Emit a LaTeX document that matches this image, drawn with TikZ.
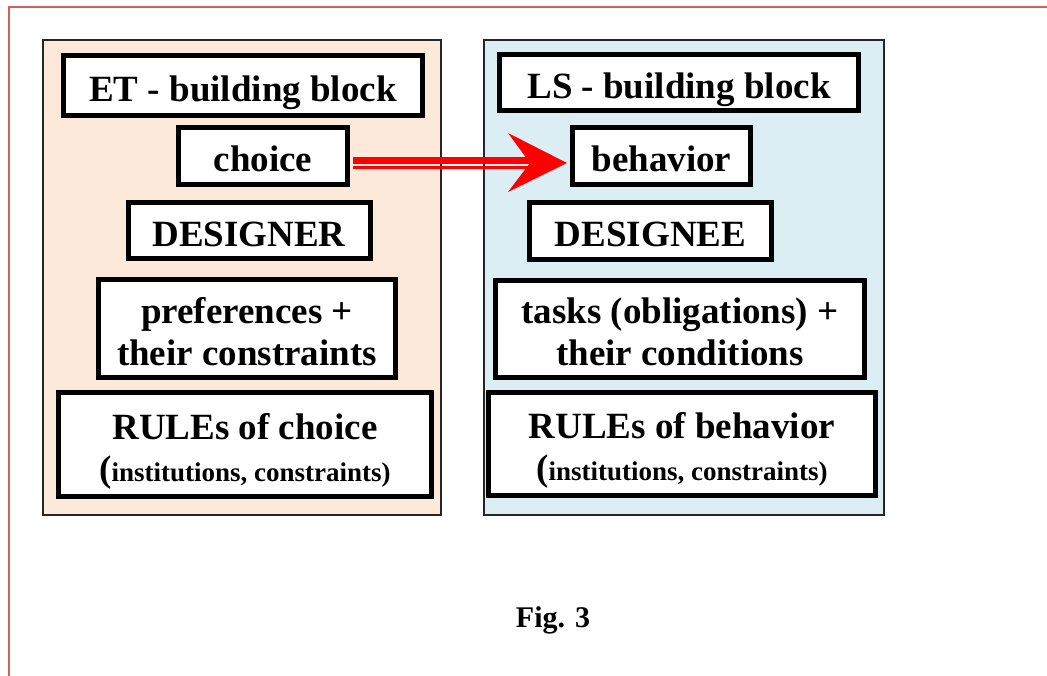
\documentclass[tikz,border=0pt]{standalone}
\usepackage{fontspec}
\setmainfont{Liberation Serif}
\definecolor{peach}{RGB}{253,233,218}
\definecolor{lightblue}{RGB}{219,238,243}
\definecolor{framered}{RGB}{208,96,96}
\definecolor{arrowred}{RGB}{255,0,0}
\begin{document}
\begin{tikzpicture}[x=1pt,y=-1pt,
  panel/.style={draw=black!85, line width=1.5pt},
  blk/.style={draw=black, line width=5pt, fill=white, inner sep=0pt, align=center,
    text height=31pt, text depth=0pt,
    font=\bfseries\fontsize{37}{42}\selectfont},
  blktwo/.style={blk, text height=73pt, text depth=0pt},
]
\useasboundingbox (0,0) rectangle (1047,675);
% page frame
\draw[framered, line width=2pt] (9,676) -- (9,7) -- (1048,7);
% panels
\fill[peach] (43,40) rectangle (441,515);
\draw[panel] (43,40) rectangle (441,515);
\fill[lightblue] (484,40) rectangle (884,515);
\draw[panel] (484,40) rectangle (884,515);
% left column
\node[blk, minimum width=359, minimum height=60] (et) at (243,85.5) {ET - building block};
\node[blk, minimum width=169, minimum height=57] (choice) at (263,156) {choice};
\node[blk, minimum width=242, minimum height=56] (designer) at (249,230.5) {DESIGNER};
\node[blktwo, minimum width=297, minimum height=98] (pref) at (247,328.5) {preferences +\\their constraints};
\node[blktwo, minimum width=373, minimum height=104] (rulesc) at (245,444.5)
  {RULEs of choice\\{\fontsize{37}{41}\selectfont(}{\fontsize{27}{41}\selectfont institutions, constraints)}};
% right column
\node[blk, minimum width=359, minimum height=56] (ls) at (679,82.5) {LS - building block};
\node[blk, minimum width=178, minimum height=57] (behavior) at (661.5,156) {behavior};
\node[blk, minimum width=242, minimum height=57] (designee) at (650.5,231) {DESIGNEE};
\node[blktwo, minimum width=369, minimum height=97] (tasks) at (680,329) {tasks (obligations) +\\their conditions};
\node[blktwo, minimum width=387, minimum height=103] (rulesb) at (682,444)
  {RULEs of behavior\\{\fontsize{37}{41}\selectfont(}{\fontsize{27}{41}\selectfont institutions, constraints)}};
% arrow choice -> behavior
\coordinate (tip) at ([xshift=-3pt,yshift=-7pt]behavior.west);
\coordinate (notch) at ([xshift=-40pt,yshift=-7pt]behavior.west);
\draw[arrowred, line width=6.8pt] ([xshift=3pt,yshift=-4.5pt]choice.east) -- ([yshift=2.5pt]notch);
\draw[arrowred, line width=2.8pt] ([xshift=3pt,yshift=-11.5pt]choice.east) -- ([yshift=-4.5pt]notch);
\fill[arrowred] (tip) -- ([xshift=-59pt,yshift=30pt]tip) -- (notch) -- ([xshift=-59pt,yshift=-29pt]tip) -- cycle;
% caption
\node[font=\bfseries\fontsize{30}{34}\selectfont] (fig) at (553,620) {Fig. 3};
\end{tikzpicture}
\end{document}
